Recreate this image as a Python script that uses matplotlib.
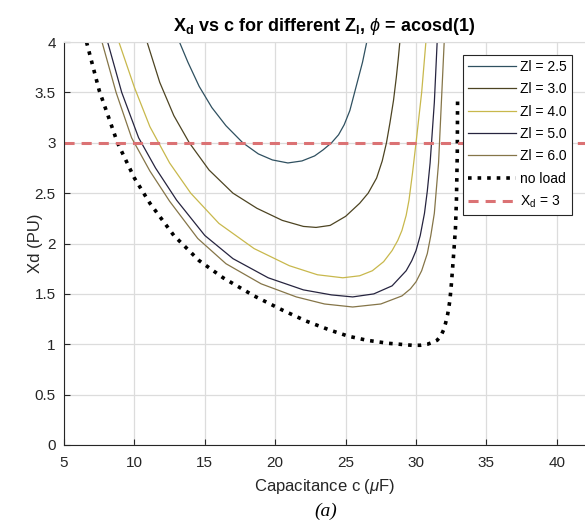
import matplotlib
matplotlib.use('Agg')
import matplotlib.pyplot as plt

plt.rcParams['font.family'] = ['Liberation Sans', 'DejaVu Sans']
plt.rcParams['mathtext.fontset'] = 'custom'
plt.rcParams['mathtext.rm'] = 'Liberation Sans'
plt.rcParams['mathtext.it'] = 'Liberation Sans:italic'
plt.rcParams['mathtext.bf'] = 'Liberation Sans:bold'

# Xd (PU) against capacitance (uF), one curve per load impedance
c_25 = [13.2, 13.8, 14.6, 15.5, 16.5, 17.7, 18.8, 19.8, 20.9, 21.9, 22.8, 23.4, 24.0, 24.5, 24.9,
        25.3, 25.6, 25.9, 26.2, 26.5]
xd_25 = [4.0, 3.80, 3.56, 3.35, 3.17, 3.00, 2.89, 2.83, 2.80, 2.82, 2.87, 2.93, 3.00, 3.08, 3.18,
         3.32, 3.48, 3.64, 3.80, 4.0]

c_30 = [10.9, 11.8, 12.8, 13.9, 15.3, 17.0, 18.7, 20.5, 22.0, 22.9, 23.9, 25.0, 26.0, 26.6, 27.2,
        27.6, 27.9, 28.15, 28.4, 28.6, 28.75, 28.85]
xd_30 = [4.0, 3.60, 3.27, 3.00, 2.73, 2.50, 2.35, 2.23, 2.17, 2.16, 2.18, 2.27, 2.40, 2.50, 2.65,
         2.82, 3.00, 3.20, 3.42, 3.65, 3.85, 4.0]

c_40 = [8.9, 10.0, 11.1, 12.5, 14.0, 16.0, 18.5, 21.0, 23.0, 24.8, 26.0, 26.9, 27.7, 28.3, 28.7,
        29.0, 29.3, 29.5, 29.75, 30.0, 30.2, 30.4, 30.55, 30.7]
xd_40 = [4.0, 3.55, 3.16, 2.80, 2.50, 2.20, 1.95, 1.78, 1.69, 1.66, 1.68, 1.73, 1.82, 1.93, 2.03,
         2.13, 2.28, 2.43, 2.70, 3.00, 3.25, 3.50, 3.75, 4.0]

c_50 = [8.1, 9.1, 10.3, 11.5, 13.0, 15.0, 17.0, 19.5, 22.0, 24.0, 25.5, 27.0, 28.3, 29.3, 29.7,
        30.0, 30.3, 30.6, 30.8, 31.0, 31.15, 31.3, 31.4, 31.5]
xd_50 = [4.0, 3.50, 3.05, 2.75, 2.43, 2.08, 1.85, 1.66, 1.54, 1.49, 1.47, 1.50, 1.58, 1.73, 1.83,
         1.93, 2.08, 2.30, 2.52, 2.80, 3.10, 3.40, 3.70, 4.0]

c_60 = [7.7, 8.7, 9.8, 11.1, 12.5, 14.5, 16.5, 19.0, 21.5, 23.5, 25.5, 27.5, 29.0, 29.6, 30.0,
        30.4, 30.8, 31.05, 31.3, 31.45, 31.6, 31.7, 31.8, 31.9, 32.0]
xd_60 = [4.0, 3.50, 3.05, 2.72, 2.42, 2.05, 1.80, 1.60, 1.47, 1.40, 1.37, 1.40, 1.48, 1.55, 1.62,
         1.73, 1.90, 2.08, 2.30, 2.55, 2.80, 3.10, 3.40, 3.70, 4.0]

c_noload = [6.6, 7.5, 8.8, 10.0, 11.1, 12.8, 14.6, 16.3, 18.5, 20.5, 22.2, 23.9, 25.2, 26.5, 28.0,
            29.7, 30.3, 30.8, 31.2, 31.5, 31.75, 31.95, 32.1, 32.25, 32.4, 32.5, 32.6, 32.7, 32.8,
            32.87, 32.93, 32.95]
xd_noload = [4.0, 3.52, 3.00, 2.65, 2.40, 2.08, 1.83, 1.66, 1.48, 1.34, 1.23, 1.14, 1.08, 1.04, 1.01,
             0.99, 0.99, 1.00, 1.02, 1.04, 1.08, 1.14, 1.21, 1.30, 1.43, 1.58, 1.76, 1.95, 2.15,
             2.43, 2.90, 3.42]

xd_limit = 3

fig = plt.figure(figsize=(5.85, 5.26), dpi=100)
ax = fig.add_axes([0.1094, 0.154, 0.8906, 0.766])

ax.plot(c_25, xd_25, color='#2f5060', linewidth=0.9, label='Zl = 2.5')
ax.plot(c_30, xd_30, color='#4d4422', linewidth=0.9, label='Zl = 3.0')
ax.plot(c_40, xd_40, color='#c8b84c', linewidth=0.9, label='Zl = 4.0')
ax.plot(c_50, xd_50, color='#26243f', linewidth=0.9, label='Zl = 5.0')
ax.plot(c_60, xd_60, color='#857548', linewidth=0.9, label='Zl = 6.0')
ax.plot(c_noload, xd_noload, color='black', linewidth=2.6, linestyle=':', label='no load')
ax.axhline(xd_limit, color='#db7274', linewidth=2.2, linestyle=(0, (3.3, 2.3)),
           label=r'$\mathrm{X_d}$ = 3')

ax.set_xlim(5, 42)
ax.set_ylim(0, 4)
ax.set_xticks([5, 10, 15, 20, 25, 30, 35, 40])
ax.set_yticks([0, 0.5, 1, 1.5, 2, 2.5, 3, 3.5, 4])
ax.set_yticklabels(['0', '0.5', '1', '1.5', '2', '2.5', '3', '3.5', '4'])
ax.grid(True, color='#dcdcdc', linewidth=0.9)
ax.tick_params(direction='in', length=4, labelsize=11, colors='#262626')
ax.tick_params(axis='x', pad=8)
ax.tick_params(axis='y', pad=6)
ax.spines['top'].set_color('#dcdcdc')
ax.spines['right'].set_visible(False)
ax.spines['left'].set_color('#262626')
ax.spines['bottom'].set_color('#262626')

ax.set_title(r'$\mathbf{X_d}$ vs c for different $\mathbf{Z_l}$, $\phi$ = acosd(1)',
             fontsize=13, fontweight='bold', pad=8)
ax.set_xlabel(r'Capacitance c ($\mu$F)', fontsize=12, color='#262626', labelpad=5)
ax.set_ylabel('Xd (PU)', fontsize=12, color='#262626')
ax.yaxis.set_label_coords(-0.04, 0.5)

leg = ax.legend(loc='upper right', bbox_to_anchor=(0.975, 0.968), fontsize=10, frameon=True,
                fancybox=False, edgecolor='#262626', framealpha=1, handlelength=3.45,
                handletextpad=0.3, borderpad=0.35, labelspacing=0.6, borderaxespad=0)
leg.get_frame().set_linewidth(0.8)

fig.text(0.556, 0.019, '(a)', fontsize=14, fontstyle='italic', family='Liberation Serif', ha='center')

fig.savefig('out.png', dpi=100)
